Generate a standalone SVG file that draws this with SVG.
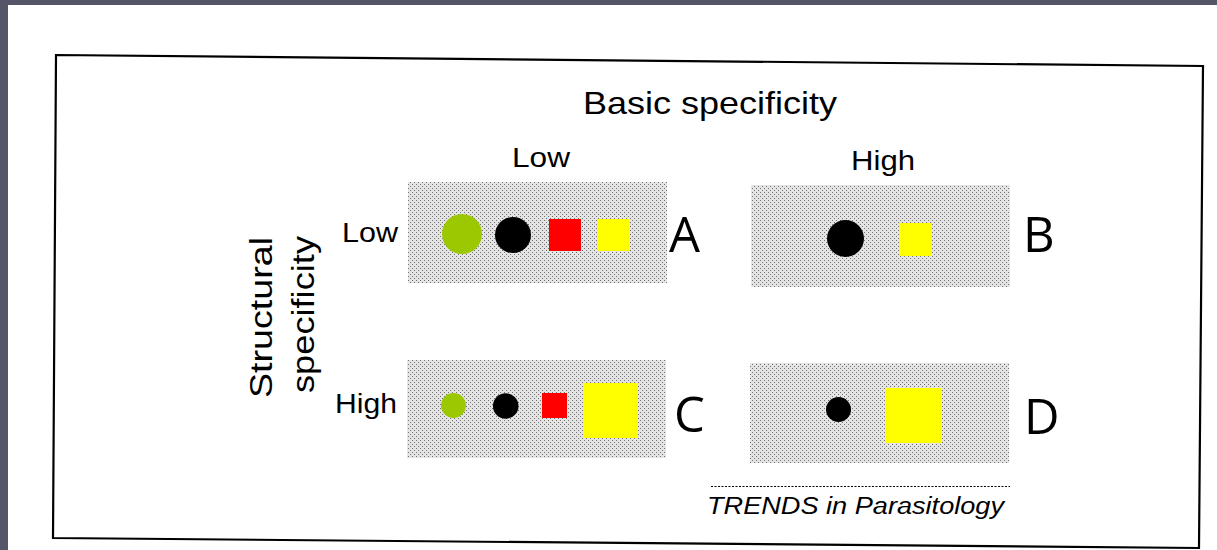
<svg xmlns="http://www.w3.org/2000/svg" width="1217" height="550" viewBox="0 0 1217 550">
  <defs>
    <pattern id="halftone" width="4" height="4" patternUnits="userSpaceOnUse">
      <rect width="4" height="4" fill="#e4e4e4"/>
      <rect x="0" y="0" width="1" height="1" fill="#707070"/>
      <rect x="2" y="2" width="1" height="1" fill="#707070"/>
    </pattern>
    <style>
      .lbl { font-family: "Liberation Sans", Arial, sans-serif; fill: #000; }
      .big { font-family: "Open Sans", "Noto Sans", sans-serif; font-size: 49px; fill: #000; }
      .panel { fill: url(#halftone); }
      .green { fill: #9bc800; }
      .blk { fill: #000; }
      .red { fill: #ff0000; }
      .yel { fill: #ffff00; }
    </style>
  </defs>

  <rect width="1217" height="550" fill="#ffffff"/>
  <rect x="0" y="0" width="1217" height="5" fill="#545566"/>
  <rect x="0" y="0" width="8" height="550" fill="#545566"/>

  <polygon points="56,55 1203,66 1199,548 53,538" fill="none" stroke="#000" stroke-width="2.2"/>

  <g id="headings">
    <text class="lbl" x="583" y="114" font-size="32" textLength="254" lengthAdjust="spacingAndGlyphs">Basic specificity</text>
    <text class="lbl" x="512" y="167" font-size="27" textLength="58" lengthAdjust="spacingAndGlyphs">Low</text>
    <text class="lbl" x="851" y="170" font-size="27" textLength="64" lengthAdjust="spacingAndGlyphs">High</text>
    <text class="lbl" x="342" y="242" font-size="28" textLength="56" lengthAdjust="spacingAndGlyphs">Low</text>
    <text class="lbl" x="335" y="413" font-size="28" textLength="62" lengthAdjust="spacingAndGlyphs">High</text>
    <text class="lbl" transform="translate(272,398) rotate(-90)" font-size="31" textLength="161" lengthAdjust="spacingAndGlyphs">Structural</text>
    <text class="lbl" transform="translate(314,393) rotate(-90)" font-size="31" textLength="157" lengthAdjust="spacingAndGlyphs">specificity</text>
  </g>

  <g id="panelA">
    <rect class="panel" x="408" y="182" width="259" height="101"/>
    <circle class="green" cx="462" cy="234" r="20"/>
    <circle class="blk" cx="513" cy="235" r="18"/>
    <rect class="red" x="549" y="219" width="32" height="32"/>
    <rect class="yel" x="597" y="219" width="32" height="32"/>
    <text class="big" x="669" y="252">A</text>
  </g>

  <g id="panelB">
    <rect class="panel" x="751" y="185" width="259" height="102"/>
    <circle class="blk" cx="845.5" cy="238.5" r="18.5"/>
    <rect class="yel" x="899" y="223" width="32" height="33"/>
    <text class="big" x="1023" y="252">B</text>
  </g>

  <g id="panelC">
    <rect class="panel" x="407" y="360" width="259" height="98"/>
    <circle class="green" cx="453.5" cy="405.5" r="12.5"/>
    <circle class="blk" cx="505.7" cy="406" r="12.8"/>
    <rect class="red" x="542" y="393" width="25" height="25"/>
    <rect class="yel" x="583" y="383" width="55" height="55"/>
    <text class="big" x="674" y="432">C</text>
  </g>

  <g id="panelD">
    <rect class="panel" x="750" y="363" width="259" height="100"/>
    <circle class="blk" cx="838.5" cy="409.5" r="12.5"/>
    <rect class="yel" x="886" y="388" width="55" height="55"/>
    <text class="big" x="1024" y="434">D</text>
  </g>

  <g id="credit">
    <line x1="711" y1="486.5" x2="1010" y2="486.5" stroke="#000" stroke-width="1" stroke-dasharray="2,1.5"/>
    <text class="lbl" x="707" y="514" font-size="23" font-style="italic" textLength="297" lengthAdjust="spacingAndGlyphs">TRENDS in Parasitology</text>
  </g>
</svg>
